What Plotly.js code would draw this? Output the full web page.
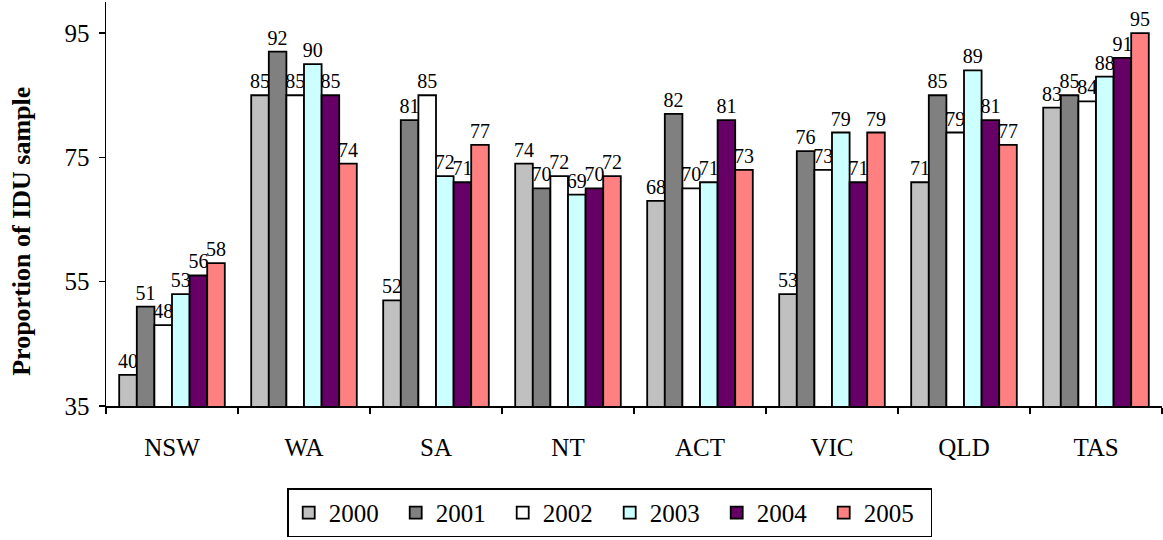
<!DOCTYPE html>
<html>
<head>
<meta charset="utf-8">
<script src="https://cdn.plot.ly/plotly-3.0.1.min.js"></script>
<style>html,body{margin:0;padding:0;background:#fff;}#chart{width:1163px;height:540px;}</style>
</head>
<body>
<div id="chart"></div>
<script>
const categories = ["NSW", "WA", "SA", "NT", "ACT", "VIC", "QLD", "TAS"];
const years = ["2000", "2001", "2002", "2003", "2004", "2005"];
const v2000 = [40, 85, 52, 74, 68, 53, 71, 83];
const v2001 = [51, 92, 81, 70, 82, 76, 85, 85];
const v2002 = [48, 85, 85, 72, 70, 73, 79, 84];
const v2003 = [53, 90, 72, 69, 71, 79, 89, 88];
const v2004 = [56, 85, 71, 70, 81, 71, 81, 91];
const v2005 = [58, 74, 77, 72, 73, 79, 77, 95];
const yTicks = [35, 55, 75, 95];
const colors = ["#C0C0C0", "#808080", "#FFFFFF", "#CCFFFF", "#660066", "#FF8080"];

const series = [v2000, v2001, v2002, v2003, v2004, v2005];
const FONT = '"Liberation Serif", serif';

const traces = series.map((vals, i) => ({
  type: "bar",
  name: years[i],
  x: categories,
  y: vals,
  text: vals.map(String),
  textposition: "outside",
  constraintext: "none",
  cliponaxis: false,
  textfont: {family: FONT, size: 20, color: "#000"},
  marker: {color: colors[i], line: {color: "#000", width: 1.8}},
  hoverinfo: "x+y+name"
}));

const layout = {
  width: 1163,
  height: 540,
  paper_bgcolor: "#fff",
  plot_bgcolor: "#fff",
  margin: {l: 106, r: 1, t: 2, b: 134, pad: 0},
  barmode: "group",
  bargap: 0.2,
  bargroupgap: 0,
  showlegend: true,
  font: {family: FONT, color: "#000"},
  xaxis: {
    type: "category",
    tickson: "boundaries",
    ticks: "outside",
    ticklen: 6,
    tickwidth: 1.5,
    tickcolor: "#000",
    showline: true,
    linecolor: "#000",
    linewidth: 1.5,
    showgrid: false,
    zeroline: false,
    tickfont: {family: FONT, size: 25, color: "#000"},
    ticklabelstandoff: 18
  },
  yaxis: {
    range: [35, 100],
    tickvals: yTicks,
    ticktext: yTicks.map(String),
    ticks: "outside",
    ticklen: 6,
    tickwidth: 1.5,
    tickcolor: "#000",
    showline: true,
    linecolor: "#000",
    linewidth: 1.5,
    showgrid: false,
    zeroline: false,
    tickfont: {family: FONT, size: 25, color: "#000"},
    ticklabelstandoff: 4
  },
  legend: {
    orientation: "h",
    x: 0.1716,
    xanchor: "left",
    y: -0.204,
    yanchor: "top",
    bordercolor: "#000",
    borderwidth: 1.5,
    bgcolor: "#fff",
    font: {family: FONT, size: 25, color: "#000"},
    entrywidth: 62,
    entrywidthmode: "pixels",
    itemwidth: 30,
    traceorder: "normal"
  },
  annotations: [{
    text: "<b>Proportion of IDU sample</b>",
    xref: "paper", yref: "paper",
    x: -0.080, y: 0.4325,
    xanchor: "center", yanchor: "middle",
    textangle: -90,
    showarrow: false,
    font: {family: FONT, size: 26, color: "#000"}
  }]
};

Plotly.newPlot("chart", traces, layout, {displayModeBar: false, staticPlot: true});
</script>
</body>
</html>
